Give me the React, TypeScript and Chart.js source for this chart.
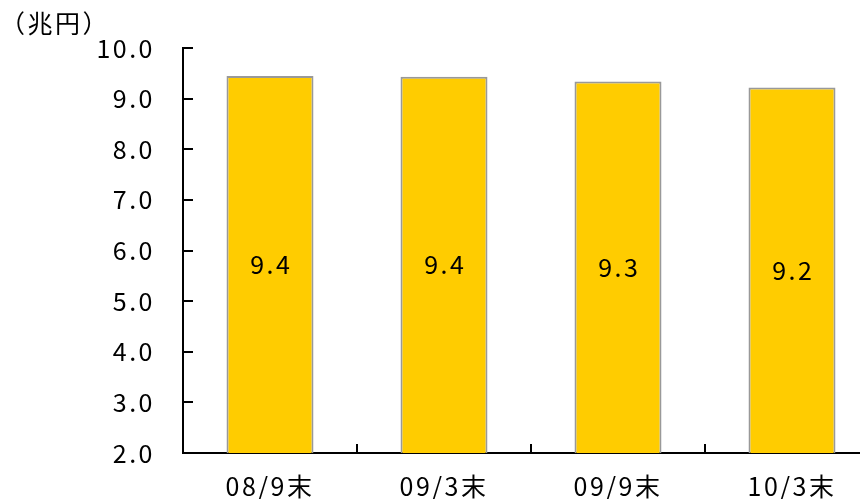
import React, { useEffect, useRef } from "react";
import { Chart, registerables } from "chart.js";

Chart.register(...registerables);

const categories = ["08/9末", "09/3末", "09/9末", "10/3末"];
const values = [9.449, 9.43, 9.34, 9.22];
const unitLabel = "（兆円）";
const yMin = 2;
const yMax = 10;
const yStep = 1;

const FONT = "'Noto Sans CJK JP', 'Noto Sans', sans-serif";
const FSIZE = 25;
const SPACING = 2.5;

const spacingPlugin = {
  id: "spacing",
  beforeUpdate(chart: any) {
    chart.ctx.letterSpacing = SPACING + "px";
  },
  beforeDraw(chart: any) {
    chart.ctx.letterSpacing = SPACING + "px";
  },
};

const innerTicksPlugin = {
  id: "innerTicks",
  afterDatasetsDraw(chart: any) {
    const { ctx, chartArea, scales } = chart;
    const xs = scales.x;
    const ys = scales.y;
    ctx.save();
    ctx.strokeStyle = "#000";
    ctx.lineWidth = 2;
    ctx.beginPath();
    for (let v = yMin; v <= yMax; v += yStep) {
      const y = Math.round(ys.getPixelForValue(v));
      ctx.moveTo(chartArea.left, y);
      ctx.lineTo(chartArea.left + 10, y);
    }
    for (let i = 0; i < categories.length; i++) {
      const a = xs.getPixelForValue(i);
      const b = i + 1 < categories.length ? xs.getPixelForValue(i + 1) : a + (a - xs.getPixelForValue(i - 1));
      const x = Math.round((a + b) / 2);
      ctx.moveTo(x, chartArea.bottom);
      ctx.lineTo(x, chartArea.bottom - 9);
    }
    ctx.stroke();
    ctx.restore();
  },
};

const valueLabelPlugin = {
  id: "valueLabels",
  afterDatasetsDraw(chart: any) {
    const { ctx, chartArea } = chart;
    const meta = chart.getDatasetMeta(0);
    ctx.save();
    ctx.letterSpacing = SPACING + "px";
    ctx.font = `${FSIZE}px ${FONT}`;
    ctx.fillStyle = "#000";
    ctx.textAlign = "center";
    ctx.textBaseline = "middle";
    meta.data.forEach((bar: any, i: number) => {
      const p = bar.getProps(["x", "y", "base"], true);
      const base = Math.min(p.base, chartArea.bottom);
      ctx.fillText(values[i].toFixed(1), p.x + SPACING / 2, (p.y + base) / 2);
    });
    ctx.restore();
  },
};

export default function App() {
  const ref = useRef<HTMLCanvasElement>(null);
  useEffect(() => {
    if (!ref.current) return;
    const chart = new Chart(ref.current, {
      type: "bar",
      data: {
        labels: categories,
        datasets: [
          {
            data: values,
            backgroundColor: "#FFCC00",
            borderColor: "#999999",
            borderWidth: 2,
            barPercentage: 0.5,
            categoryPercentage: 1,
          },
        ],
      },
      options: {
        animation: false,
        responsive: false,
        layout: { padding: { left: 0, right: 1, top: 0, bottom: 0 } },
        plugins: {
          legend: { display: false },
          tooltip: { enabled: false },
          title: {
            display: true,
            text: unitLabel,
            align: "start",
            color: "#000",
            font: { family: FONT, size: FSIZE, weight: "normal", lineHeight: 1.2 },
            padding: { top: 8, bottom: 10 },
          },
        },
        scales: {
          x: {
            grid: { display: false, drawTicks: false },
            border: { display: true, color: "#000", width: 2 },
            ticks: {
              color: "#000",
              font: { family: FONT, size: FSIZE },
              padding: 18,
              maxRotation: 0,
            },
            afterFit: (s: any) => {
              s.height = 46;
            },
          },
          y: {
            min: yMin,
            max: yMax,
            grid: { display: false, drawTicks: false },
            border: { display: true, color: "#000", width: 2 },
            ticks: {
              stepSize: yStep,
              color: "#000",
              font: { family: FONT, size: FSIZE },
              padding: 28,
              callback: (v: any) => Number(v).toFixed(1),
            },
            afterFit: (s: any) => {
              s.width = 183;
            },
          },
        },
      },
      plugins: [spacingPlugin, innerTicksPlugin, valueLabelPlugin],
    });
    return () => chart.destroy();
  }, []);
  return (
    <div style={{ position: "absolute", left: 0, top: 0, width: 860, height: 499, overflow: "hidden" }}>
      <canvas ref={ref} width={880} height={499} style={{ display: "block" }} />
    </div>
  );
}
